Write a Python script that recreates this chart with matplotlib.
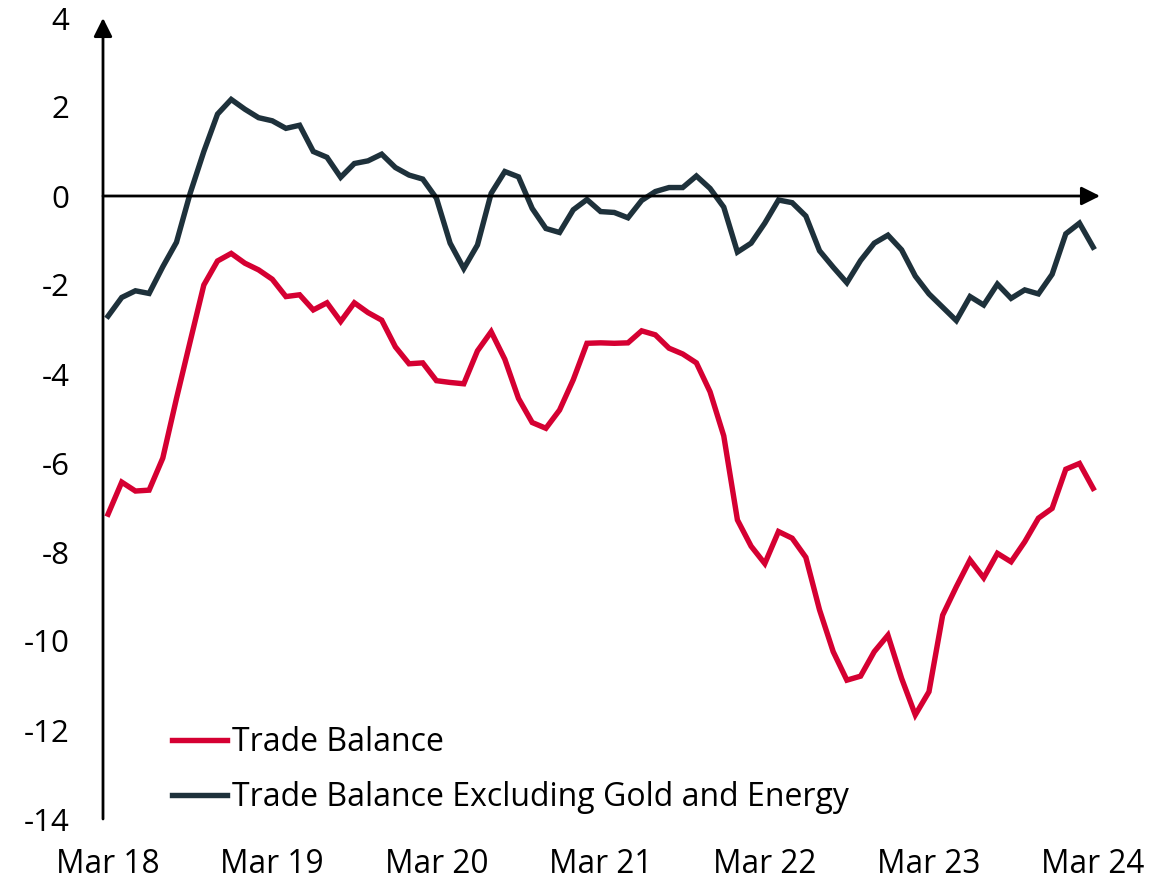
import matplotlib.pyplot as plt
import numpy as np

plt.rcParams['font.family'] = ['Open Sans', 'DejaVu Sans']
plt.rcParams['axes.unicode_minus'] = False

# monthly, Mar 18 .. Mar 24
tick_labels = ["Mar 18", "Mar 19", "Mar 20", "Mar 21", "Mar 22", "Mar 23", "Mar 24"]

trade_balance = [
    -7.15, -6.43, -6.63, -6.61, -5.89, -4.55, -3.27, -2.00, -1.46, -1.29,
    -1.51, -1.66, -1.87, -2.26, -2.22, -2.56, -2.40, -2.82, -2.40, -2.62,
    -2.79, -3.39, -3.77, -3.75, -4.15, -4.19, -4.22, -3.48, -3.05, -3.67,
    -4.55, -5.09, -5.22, -4.81, -4.13, -3.31, -3.30, -3.31, -3.30, -3.03,
    -3.12, -3.42, -3.55, -3.75, -4.40, -5.39, -7.28, -7.87, -8.26, -7.54,
    -7.69, -8.12, -9.30, -10.24, -10.88, -10.79, -10.24, -9.87, -10.84, -11.66,
    -11.14, -9.42, -8.78, -8.18, -8.58, -8.03, -8.22, -7.77, -7.24, -7.02,
    -6.14, -6.01, -6.57,
]

trade_ex_gold_energy = [
    -2.70, -2.28, -2.13, -2.19, -1.59, -1.04, 0.06, 1.00, 1.84, 2.17,
    1.95, 1.76, 1.69, 1.52, 1.59, 1.00, 0.87, 0.42, 0.73, 0.79,
    0.94, 0.64, 0.47, 0.38, -0.05, -1.06, -1.63, -1.10, 0.06, 0.55,
    0.43, -0.28, -0.73, -0.82, -0.31, -0.08, -0.35, -0.37, -0.49, -0.10,
    0.10, 0.19, 0.19, 0.45, 0.17, -0.25, -1.26, -1.06, -0.61, -0.09,
    -0.15, -0.45, -1.23, -1.60, -1.95, -1.45, -1.06, -0.88, -1.21, -1.80,
    -2.20, -2.50, -2.80, -2.26, -2.45, -1.98, -2.30, -2.11, -2.20, -1.76,
    -0.85, -0.61, -1.15,
]

red = "#D50032"
dark = "#1E313B"

fig = plt.figure(figsize=(11.76, 8.85), dpi=100)
ax = fig.add_axes([103 / 1176, 66 / 885, 997 / 1176, 801 / 885])

x = np.arange(len(trade_balance))
ax.plot(x, trade_balance, color=red, lw=3.9, solid_joinstyle='miter',
        label="Trade Balance")
ax.plot(x, trade_ex_gold_energy, color=dark, lw=3.9, solid_joinstyle='miter',
        label="Trade Balance Excluding Gold and Energy")

ax.set_xlim(-0.37, 72.5)
ax.set_ylim(-14, 4)

for s in ax.spines.values():
    s.set_visible(False)

# axis arrows
ax.annotate("", xy=(0, 1.0), xytext=(0, 0), xycoords='axes fraction',
            arrowprops=dict(arrowstyle='-|>', color='black', lw=2,
                            mutation_scale=28, shrinkA=0, shrinkB=0))
ax.annotate("", xy=(1.0, 0), xytext=(0, 0), xycoords=ax.get_yaxis_transform(),
            arrowprops=dict(arrowstyle='-|>', color='black', lw=2,
                            mutation_scale=28, shrinkA=0, shrinkB=0))

ax.set_yticks(np.arange(-14, 5, 2))
ax.set_yticklabels([str(v) for v in range(-14, 5, 2)])
ax.set_xticks(np.arange(0, 73, 12))
ax.set_xticklabels(tick_labels)
ax.tick_params(axis='y', length=0, pad=24, labelsize=22.5)
ax.tick_params(axis='x', length=0, pad=21, labelsize=22.8)

ax.legend(loc='upper left', bbox_to_anchor=(172 / 1176, 1 - 726 / 885),
          bbox_transform=fig.transFigure, frameon=False, fontsize=23,
          handlelength=1.72, handletextpad=0.16, labelspacing=0.7,
          borderpad=0, borderaxespad=0)

fig.savefig("out.png", dpi=100)
